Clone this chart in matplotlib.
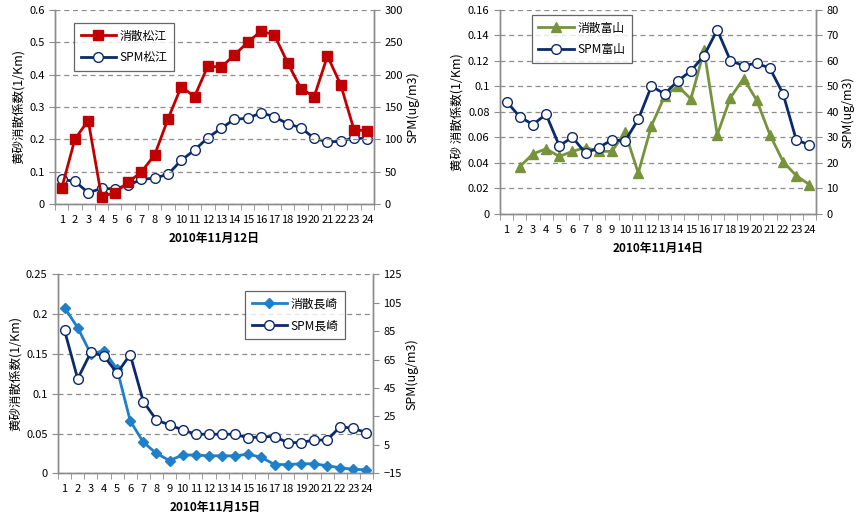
import matplotlib
matplotlib.use("Agg")
import matplotlib.pyplot as plt
from matplotlib.ticker import MultipleLocator, FixedLocator, FuncFormatter
from matplotlib.lines import Line2D

plt.rcParams['font.family'] = ['Noto Sans CJK JP', 'DejaVu Sans']

hours = list(range(1, 25))

# Panel 1: Matsue, 2010-11-12
matsue_ext = [0.048, 0.201, 0.258, 0.023, 0.035, 0.067, 0.099, 0.152, 0.263, 0.363,
              0.332, 0.427, 0.423, 0.461, 0.500, 0.535, 0.523, 0.437, 0.357, 0.332,
              0.458, 0.368, 0.229, 0.227]
matsue_spm = [38, 35, 17.5, 24, 23.5, 29, 38, 40, 46, 67.5,
              83.5, 102.5, 117, 131, 132.5, 141, 135, 124, 118, 101.5,
              96, 97, 102.5, 100.5]

# Panel 2: Toyama, 2010-11-14 (extinction starts at hour 2)
toyama_hours = list(range(2, 25))
toyama_ext = [0.037, 0.047, 0.051, 0.045, 0.049, 0.052, 0.049, 0.049, 0.064,
              0.032, 0.069, 0.092, 0.100, 0.090, 0.128, 0.062, 0.091, 0.106, 0.089,
              0.062, 0.041, 0.030, 0.023]
toyama_spm = [44, 38, 35, 39, 26.7, 30, 23.8, 26, 29, 28.6,
              37, 50, 47, 52, 56, 62, 72, 60, 58, 59,
              57, 47, 29, 27]

# Panel 3: Nagasaki, 2010-11-15
nagasaki_ext = [0.208, 0.183, 0.150, 0.154, 0.131, 0.066, 0.039, 0.025, 0.016, 0.023,
                0.023, 0.022, 0.022, 0.022, 0.024, 0.020, 0.011, 0.011, 0.012, 0.012,
                0.0095, 0.007, 0.005, 0.0045]
nagasaki_spm = [85.5, 51.5, 70, 67.5, 55.5, 68.5, 35.5, 22.5, 19, 15.5,
                12.5, 12.5, 12.5, 12.5, 9.8, 10.8, 10.8, 6.6, 6.6, 8.4,
                8.4, 17.8, 16.6, 13.6]

xlabels = ["2010年11月12日", "2010年11月14日", "2010年11月15日"]
ylabel_left = "黄砂消散係数(1/Km)"
ylabel_right = "SPM(ug/m3)"

W, H = 859, 519
fig = plt.figure(figsize=(W / 100, H / 100), dpi=100)

GRID = '#8c8c8c'
SPINE = '#8c8c8c'
FS = 8


def box(l, t, r, b):
    return [l / W, 1 - b / H, (r - l) / W, (b - t) / H]


def fmt_num(v, pos):
    s = ('%.2f' % v).rstrip('0').rstrip('.')
    return s if s != '-0' else '0'


def setup(ax, ax2, ymax, ystep, y2lim, y2ticks, xlabel, ylab_left):
    ax.set_xlim(0.5, 24.5)
    ax.set_ylim(0, ymax)
    ax.yaxis.set_major_locator(MultipleLocator(ystep))
    ax.yaxis.set_major_formatter(FuncFormatter(fmt_num))
    ax.set_xticks(hours)
    ax.set_xticklabels([str(h) for h in hours])
    ax.xaxis.set_minor_locator(FixedLocator([h + 0.5 for h in range(0, 25)]))
    ax.tick_params(axis='x', which='major', length=0, labelsize=FS, pad=8, colors='black')
    ax.tick_params(axis='x', which='minor', length=4, color=SPINE, direction='out')
    ax.tick_params(axis='y', length=4, color=SPINE, labelsize=FS, direction='out')
    ax.grid(axis='y', linestyle=(0, (4, 3)), color=GRID, linewidth=0.9)
    ax.set_axisbelow(True)
    for a in (ax, ax2):
        for s in a.spines.values():
            s.set_color(SPINE)
            s.set_linewidth(1.0)
        a.spines['top'].set_visible(False)
    ax2.set_ylim(*y2lim)
    ax2.set_yticks(y2ticks)
    ax2.tick_params(axis='y', length=4, color=SPINE, labelsize=FS, direction='out')
    ax.set_xlabel(xlabel, fontsize=8.5, fontweight='bold', labelpad=5)
    ax.set_ylabel(ylab_left, fontsize=9, labelpad=3)
    ax2.set_ylabel(ylabel_right, fontsize=9, labelpad=2)


def add_legend(ax, handles, labels, anchor):
    leg = ax.legend(handles, labels, loc='upper left', bbox_to_anchor=anchor,
                    fontsize=8.5, frameon=True, fancybox=False, handlelength=3.0,
                    borderpad=0.55, labelspacing=0.75, handletextpad=0.3,
                    borderaxespad=0)
    leg.get_frame().set_edgecolor('#404040')
    leg.get_frame().set_linewidth(0.9)
    leg.set_zorder(20)


NAVY = '#0b2a6b'

# ---------- Panel 1 ----------
ax1 = fig.add_axes(box(55, 10, 374, 204))
ax1b = ax1.twinx()
setup(ax1, ax1b, 0.6, 0.1, (0, 300), list(range(0, 301, 50)), xlabels[0], ylabel_left)
ax1b.plot(hours, matsue_spm, color=NAVY, lw=2.0, marker='o', ms=7,
          mfc='white', mec=NAVY, mew=1.0, zorder=3)
ax1.set_zorder(ax1b.get_zorder() + 1)
ax1.patch.set_visible(False)
ax1.plot(hours, matsue_ext, color='#c00000', lw=2.0, marker='s', ms=7,
         mfc='#c00000', mec='#c00000', zorder=4)
h1 = Line2D([], [], color='#c00000', lw=2.0, marker='s', ms=7)
h2 = Line2D([], [], color=NAVY, lw=2.0, marker='o', ms=7, mfc='white', mec=NAVY)
add_legend(ax1, [h1, h2], ['消散松江', 'SPM松江'], (0.06, 0.933))

# ---------- Panel 2 ----------
ax2 = fig.add_axes(box(500, 9.5, 816, 214))
ax2b = ax2.twinx()
setup(ax2, ax2b, 0.16, 0.02, (0, 80), list(range(0, 81, 10)), xlabels[1], "黄砂 消散係数(1/Km)")
ax2.plot(toyama_hours, toyama_ext, color='#77933c', lw=2.0, marker='^', ms=7,
         mfc='#77933c', mec='#77933c', zorder=3)
ax2b.plot(hours, toyama_spm, color=NAVY, lw=2.0, marker='o', ms=7,
          mfc='white', mec=NAVY, mew=1.0, zorder=4)
h1 = Line2D([], [], color='#77933c', lw=2.0, marker='^', ms=7)
h2 = Line2D([], [], color=NAVY, lw=2.0, marker='o', ms=7, mfc='white', mec=NAVY)
add_legend(ax2b, [h1, h2], ['消散富山', 'SPM富山'], (0.101, 0.973))

# ---------- Panel 3 ----------
ax3 = fig.add_axes(box(58, 274.3, 373, 473.3))
ax3b = ax3.twinx()
setup(ax3, ax3b, 0.25, 0.05, (-15, 125), list(range(-15, 126, 20)), xlabels[2], ylabel_left)
ax3.plot(hours, nagasaki_ext, color='#1f7fc8', lw=2.0, marker='D', ms=5.5,
         mfc='#1f7fc8', mec='#1f7fc8', zorder=3)
ax3b.plot(hours, nagasaki_spm, color=NAVY, lw=2.0, marker='o', ms=7,
          mfc='white', mec=NAVY, mew=1.0, zorder=4)
h1 = Line2D([], [], color='#1f7fc8', lw=2.0, marker='D', ms=5.5)
h2 = Line2D([], [], color=NAVY, lw=2.0, marker='o', ms=7, mfc='white', mec=NAVY)
add_legend(ax3b, [h1, h2], ['消散長崎', 'SPM長崎'], (0.594, 0.916))

fig.savefig('out.png', dpi=100)
